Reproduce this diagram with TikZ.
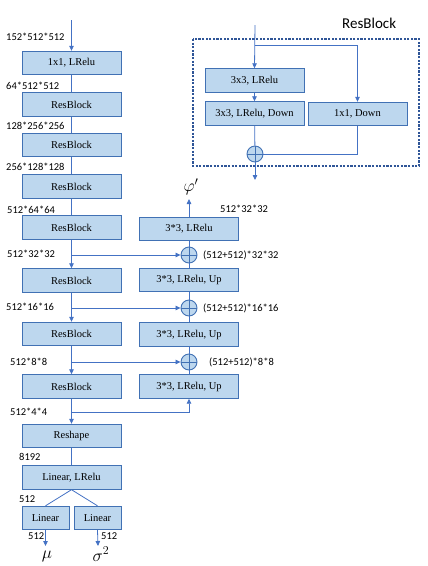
\documentclass[tikz,border=0pt]{standalone}
\usepackage{fontspec}
\setmainfont{Liberation Serif}
\newfontfamily\dimfont{Carlito}
\usepackage{tikz}
\usetikzlibrary{arrows.meta, positioning, calc}

\definecolor{boxfill}{RGB}{189,215,238}
\definecolor{boxline}{RGB}{65,113,180}
\definecolor{flowline}{RGB}{68,114,196}
\definecolor{dotline}{RGB}{47,85,151}

\begin{document}
\begin{tikzpicture}[
                x=1pt, y=-1pt,
                block/.style={rectangle, draw=boxline, fill=boxfill, line width=0.9pt, minimum width=99pt, minimum height=23.5pt, inner sep=1pt, font=\fontsize{10.5}{12}\selectfont},
                smallblock/.style={block, minimum width=47pt},
                addnode/.style={circle, draw=boxline, fill=boxfill, line width=0.9pt, minimum size=16pt, inner sep=0pt,
                    path picture={\draw[boxline, line width=0.9pt] (path picture bounding box.north) -- (path picture bounding box.south)
                        (path picture bounding box.west) -- (path picture bounding box.east);}},
                dimlabel/.style={anchor=west, inner sep=0pt, font=\dimfont\fontsize{10.5}{12}\selectfont},
                mathlabel/.style={inner sep=0pt, font=\fontsize{17}{20}\selectfont},
                flow/.style={draw=flowline, line width=0.8pt},
                arrow/.style={flow, -{Triangle[length=5pt, width=4.5pt]}}
            ]
                \useasboundingbox (0,0) rectangle (428,566);

                % Encoder
                \node[block] (conv) at (71.5,63) {1x1, LRelu};
                \node[block] (rb1) at (71.5,104.5) {ResBlock};
                \node[block] (rb2) at (71.5,145) {ResBlock};
                \node[block] (rb3) at (71.5,186.5) {ResBlock};
                \node[block] (rb4) at (71.5,227.5) {ResBlock};
                \node[block] (rb5) at (71.5,280.5) {ResBlock};
                \node[block] (rb6) at (71.5,334) {ResBlock};
                \node[block] (rb7) at (71.5,386.5) {ResBlock};
                \node[block] (reshape) at (71.5,436) {Reshape};
                \node[block] (lin) at (71.5,477.5) {Linear, LRelu};
                \node[smallblock] (mubox) at (45.5,518) {Linear};
                \node[smallblock] (sigbox) at (97.5,518) {Linear};

                % Decoder
                \node[block] (up0) at (189,229) {3*3, LRelu};
                \node[addnode] (add1) at (189,255) {};
                \node[block] (up1) at (189,280) {3*3, LRelu, Up};
                \node[addnode] (add2) at (189,308) {};
                \node[block] (up2) at (189,334.5) {3*3, LRelu, Up};
                \node[addnode] (add3) at (189,362) {};
                \node[block] (up3) at (189,386.5) {3*3, LRelu, Up};

                % ResBlock detail
                \node[block] (res1) at (254.5,80.5) {3x3, LRelu};
                \node[block] (res2) at (254.5,113.5) {3x3, LRelu, Down};
                \node[block] (res3) at (357.5,114) {1x1, Down};
                \node[addnode] (resadd) at (255,154) {};
                \draw[dotline, line width=2.4pt, dash pattern=on 2.2pt off 1.4pt] (193,39) rectangle (419,166);
                \node[anchor=west, inner sep=0pt, font=\dimfont\fontsize{15}{18}\selectfont] (restitle) at (342,23) {ResBlock};

                % Free ends
                \coordinate (in) at (71.5,20);
                \coordinate (resin) at (255,25);
                \coordinate (resfork) at (255,45);
                \coordinate (resout) at (255,180);
                \coordinate (phiend) at (189,199);
                \coordinate (muend) at (45.5,546);
                \coordinate (sigend) at (98,546);
                \coordinate (fork7) at (71.5,412);

                % Encoder edges
                \draw[arrow] (in) -- (conv.north);
                \draw[flow] (conv) -- (rb1) (rb1) -- (rb2) (rb2) -- (rb3) (rb3) -- (rb4);
                \draw[arrow] (rb4) -- (rb5);
                \draw[arrow] (rb5) -- (rb6);
                \draw[arrow] (rb6) -- (rb7);
                \draw[arrow] (rb7) -- (reshape);
                \draw[flow] (reshape) -- (lin);
                \draw[flow] (lin.south) -- (mubox.north);
                \draw[flow] (lin.south) -- (sigbox.north);
                \draw[arrow] (mubox.south) -- (muend);
                \draw[arrow] (sigbox.south) -- (sigend);

                % Skip connections
                \draw[arrow] (rb4.south |- add1) -- (add1.west);
                \draw[arrow] (rb5.south |- add2) -- (add2.west);
                \draw[arrow] (rb6.south |- add3) -- (add3.west);
                \draw[arrow] (fork7) -| (up3.south);

                % Decoder edges
                \draw[flow] (up3) -- (add3) (add3) -- (up2) (up2) -- (add2) (add2) -- (up1) (up1) -- (add1) (add1) -- (up0);
                \draw[arrow] (up0.north) -- (phiend);

                % ResBlock detail edges
                \draw[arrow] (resin) -- (res1.north);
                \draw[arrow] (res1) -- (res2);
                \draw[arrow] (resfork) -| (res3.north);
                \draw[flow] (res2) -- (resadd);
                \draw[flow] (res3.south) |- (resadd.east);
                \draw[arrow] (resadd) -- (resout);

                % Sizes
                \node[dimlabel] (d0) at (6,37) {152*512*512};
                \node[dimlabel] (d1) at (6,86) {64*512*512};
                \node[dimlabel] (d2) at (6,126) {128*256*256};
                \node[dimlabel] (d3) at (6,167) {256*128*128};
                \node[dimlabel] (d4) at (7,210) {512*64*64};
                \node[dimlabel] (d5) at (7,254) {512*32*32};
                \node[dimlabel] (d6) at (6,307) {512*16*16};
                \node[dimlabel] (d7) at (10,362) {512*8*8};
                \node[dimlabel] (d8) at (10,412) {512*4*4};
                \node[dimlabel] (d9) at (19,457) {8192};
                \node[dimlabel] (d10) at (19,499) {512};
                \node[dimlabel] (d11) at (28,536) {512};
                \node[dimlabel] (d12) at (101,536) {512};
                \node[dimlabel] (e0) at (220,209) {512*32*32};
                \node[dimlabel] (e1) at (203,255) {(512+512)*32*32};
                \node[dimlabel] (e2) at (203,308) {(512+512)*16*16};
                \node[dimlabel] (e3) at (209,362) {(512+512)*8*8};

                % Outputs
                \node[mathlabel] (phi) at (191,187) {$\varphi'$};
                \node[mathlabel] (mu) at (47,556) {$\mu$};
                \node[mathlabel] (sig) at (101,554) {$\sigma^2$};
            \end{tikzpicture}
\end{document}
